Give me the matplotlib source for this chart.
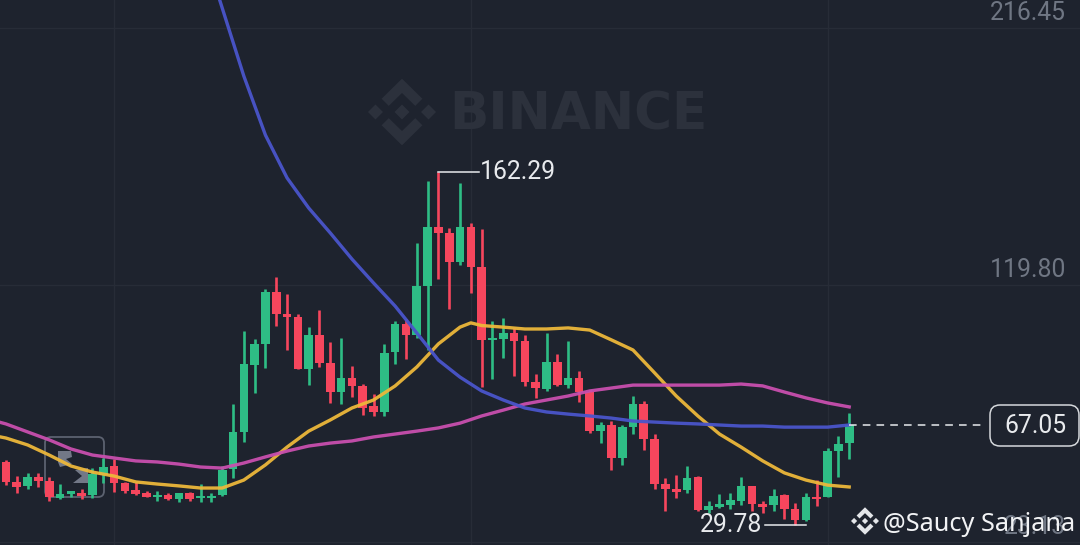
import numpy as np
import matplotlib
matplotlib.use("Agg")
import matplotlib.pyplot as plt
from matplotlib.patches import FancyBboxPatch, Polygon
from matplotlib.transforms import Affine2D

opens = [53.3, 45.8, 44.3, 47.6, 46.1, 39.8, 41.3, 41.6, 40.9, 48.4,
         51.8, 45.4, 42.8, 41.6, 40.1, 40.9, 39.4, 41.6, 39.8, 39.8,
         40.9, 50.7, 64.6, 89.8, 97.7, 117.2, 108.9, 107.8, 88.3, 101.0,
         90.5, 79.6, 84.9, 81.9, 74.3, 72.1, 94.6, 105.2, 101.0, 119.5,
         141.6, 139.4, 128.5, 141.6, 126.6, 99.2, 99.5, 101.8, 98.8, 83.4,
         80.7, 90.9, 82.2, 84.9, 79.6, 64.9, 67.2, 54.8, 66.5, 75.1,
         61.9, 45.0, 43.1, 42.8, 47.6, 35.2, 36.4, 37.1, 38.6, 44.3,
         37.5, 37.1, 40.9, 35.6, 31.5, 40.1, 40.1, 57.4, 60.4]
highs = [54.0, 48.0, 49.2, 49.2, 47.6, 45.0, 42.4, 43.1, 51.0, 54.8,
         54.4, 45.8, 45.8, 42.4, 42.4, 41.6, 41.6, 42.0, 45.0, 41.6,
         51.8, 75.1, 102.5, 99.5, 118.3, 122.8, 116.5, 108.9, 104.0, 110.4,
         98.4, 99.9, 89.4, 82.6, 78.9, 97.7, 106.3, 107.1, 135.6, 158.9,
         162.29, 141.3, 158.2, 143.2, 140.9, 106.3, 107.4, 103.7, 101.0, 86.4,
         101.8, 93.9, 98.8, 87.5, 80.4, 68.3, 68.7, 67.2, 78.1, 76.2,
         63.8, 47.3, 48.4, 51.8, 48.0, 38.6, 41.3, 41.6, 47.6, 44.3,
         38.6, 43.1, 41.3, 37.9, 41.6, 46.5, 58.6, 63.1, 71.7]
lows = [44.6, 41.6, 43.1, 43.9, 38.6, 39.4, 40.1, 39.4, 39.8, 45.4,
        42.0, 41.6, 40.9, 40.1, 38.6, 39.0, 38.2, 38.6, 38.2, 38.2,
        40.5, 47.3, 60.8, 79.2, 88.6, 104.4, 95.4, 88.3, 82.2, 89.0,
        75.5, 75.1, 77.7, 71.0, 70.6, 70.6, 90.1, 92.0, 99.9, 95.4,
        122.1, 110.8, 127.4, 116.8, 81.5, 84.5, 92.4, 85.6, 81.9, 77.4,
        80.0, 81.9, 81.1, 75.8, 64.2, 60.4, 50.3, 52.2, 63.8, 57.8,
        43.1, 34.9, 39.8, 41.6, 34.9, 34.1, 36.0, 35.6, 37.1, 34.9,
        34.1, 34.9, 31.9, 29.78, 31.1, 36.7, 40.1, 47.6, 54.4]
closes = [45.8, 43.9, 47.6, 46.1, 40.1, 41.3, 42.4, 40.5, 48.8, 51.4,
          45.4, 42.4, 41.3, 40.1, 40.9, 39.4, 41.6, 39.4, 40.1, 40.5,
          50.3, 64.6, 90.1, 97.7, 117.2, 108.9, 107.8, 88.3, 101.0, 90.5,
          79.6, 84.9, 81.9, 73.6, 72.1, 94.3, 105.2, 101.0, 119.5, 141.6,
          139.4, 128.5, 141.6, 126.6, 99.2, 99.9, 101.8, 98.8, 83.4, 81.1,
          90.9, 82.2, 84.9, 79.6, 64.9, 67.2, 54.8, 66.5, 75.1, 61.9,
          45.0, 43.1, 42.0, 47.3, 35.2, 36.7, 37.5, 39.0, 44.3, 37.5,
          36.4, 40.5, 35.6, 31.5, 40.1, 39.4, 57.4, 60.1, 67.05]

ma_index = [-1] + list(range(0, 79, 2))
yellow_index = [-1] + list(range(0, 43, 2)) + [43] + list(range(44, 79, 2))
ma_yellow = [63.1, 62.3, 59.7, 55.9, 51.8, 49.5, 48.0, 45.8, 45.0, 44.3, 43.5,
             43.5, 46.5, 52.2, 58.9, 64.9, 69.1, 73.6, 76.6, 81.9, 89.0,
             97.7, 104.0, 105.6, 104.6, 104.0, 103.3, 103.3, 103.7, 102.9, 99.2, 95.4,
             86.8, 78.1, 70.6, 63.8, 58.9, 53.7, 49.2, 46.5, 44.6, 43.9]
ma_magenta = [68.7, 67.6, 64.6, 61.6, 58.2, 55.9, 54.8, 53.7, 53.3, 52.5, 51.4,
              51.0, 52.9, 55.2, 57.4, 59.3, 60.4, 61.2, 62.7, 63.8, 64.9,
              66.1, 67.9, 70.6, 72.8, 75.1, 76.6, 78.1, 80.0, 81.1, 82.2,
              82.2, 82.2, 82.2, 82.2, 82.6, 81.9, 79.6, 77.4, 75.5, 74.0]
ma_blue = [None] * 10 + [249.6, 224.0, 198.4, 176.2, 160.1, 148.8, 139.4, 129.6,
           120.6, 111.9, 101.8, 91.6, 85.2, 80.0, 76.6, 73.6, 72.1, 71.3, 70.6,
           69.8, 68.7, 68.3, 67.9, 67.6, 67.2, 66.8, 66.8, 66.4, 66.4, 66.4, 67.2]

price_ticks = [216.45, 119.80, 23.13]
price_labels = ["216.45", "119.80", "23.13"]
time_ticks = [10, 43, 76]

bg = "#1e232e"
green = "#2ebd85"
red = "#f6465d"
grey = "#6f7683"

plt.rcParams['font.family'] = ['Roboto', 'DejaVu Sans']

fig = plt.figure(figsize=(10.8, 5.45), dpi=100, facecolor=bg)
ax = fig.add_axes([0, 0, 1, 1], facecolor=bg)
ax.set_xlim(-0.555, 99.35)
ax.set_ylim(22.08, 227.0)

# pixel coordinates of the picture, y going down
px = Affine2D().scale(1, -1).translate(0, 545)

ax.set_yticks(price_ticks)
ax.set_xticks(time_ticks)
ax.grid(True, color="#272c37", lw=1)
ax.set_axisbelow(True)
ax.tick_params(length=0, labelleft=False, labelbottom=False)
for s in ax.spines.values():
    s.set_visible(False)


def draw_logo(cx, cy, r, color, z):
    shapes = [
        [(0, .98), (.6, .39), (.39, .18), (0, .56), (-.39, .18), (-.6, .39)],
        [(0, -.98), (.6, -.39), (.39, -.18), (0, -.56), (-.39, -.18), (-.6, -.39)],
        [(0, .22), (.22, 0), (0, -.22), (-.22, 0)],
        [(-.78, .22), (-.56, 0), (-.78, -.22), (-1, 0)],
        [(.78, .22), (1, 0), (.78, -.22), (.56, 0)],
    ]
    for shape in shapes:
        pts = [(cx + r * a, cy - r * b) for a, b in shape]
        ax.add_patch(Polygon(pts, closed=True, fc=color, ec="none", transform=px, zorder=z))


# watermark
draw_logo(402, 112, 34, "#2c313c", 1)
ax.text(449, 130, "BINANCE", transform=px, color="#2c313c", fontsize=37.2,
        fontweight='bold', family='DejaVu Sans', ha='left', va='baseline', zorder=1)

# small replay badge on the left
ax.add_patch(FancyBboxPatch((45, 437), 59, 60, boxstyle="round,pad=0,rounding_size=6",
                            fc="none", ec="#5c6270", lw=1.3, transform=px, zorder=1.5))
ax.add_patch(Polygon([(58, 451), (71, 451), (72, 457), (66, 459), (72, 464), (60, 467), (58, 462)],
                     fc="#727887", ec="none", transform=px, zorder=1.5))
ax.add_patch(Polygon([(88, 468), (88, 483), (73, 483), (82, 476), (75, 470)],
                     fc="#727887", ec="none", transform=px, zorder=1.5))

# candles
for i in range(len(opens)):
    col = green if closes[i] >= opens[i] else red
    ax.vlines(i, lows[i], highs[i], color=col, lw=1.9, zorder=3)
    bottom = min(opens[i], closes[i])
    height = max(abs(closes[i] - opens[i]), 0.8)
    ax.bar(i, height, bottom=bottom, width=0.8, color=col, zorder=3)

ma_blue_arr = np.array(ma_blue, dtype=float)
ax.plot(yellow_index, ma_yellow, color="#edb83a", lw=2.4, zorder=4, alpha=0.95)
ax.plot(ma_index, ma_magenta, color="#c94fae", lw=2.4, zorder=4, alpha=0.95)
ax.plot(ma_index, ma_blue_arr, color="#4a55cb", lw=2.4, zorder=4, alpha=0.95)

# high / low markers
ax.plot([40, 43.8], [162.29, 162.29], color="#e8eaed", lw=1.1, zorder=5)
ax.annotate("162.29", xy=(43.8, 162.29), xytext=(0, 0), textcoords='offset points',
            color="#e8eaed", fontsize=17.8, ha='left', va='center', zorder=5)
ax.plot([70.2, 74], [29.78, 29.78], color="#e8eaed", lw=1.1, zorder=5)
ax.annotate("29.78", xy=(70.0, 29.78), xytext=(0, 0), textcoords='offset points',
            color="#e8eaed", fontsize=17.8, ha='right', va='center', zorder=5)

# price axis labels sit on top of their grid lines
for val, lab in zip(price_ticks, price_labels):
    ax.annotate(lab, xy=(1, val), xycoords=('axes fraction', 'data'),
                xytext=(-10, 6), textcoords='offset points', color=grey,
                fontsize=17.8, ha='right', va='baseline', zorder=2)

# last price
ax.plot([78, 90.2], [closes[-1], closes[-1]], color="#e8eaed", lw=1.1,
        dashes=(5, 4), zorder=5)
ax.add_patch(FancyBboxPatch((990, 405), 89, 41, boxstyle="round,pad=0,rounding_size=10",
                            fc=bg, ec="#d5d8dc", lw=1.1, transform=px, zorder=5))
ax.text(1035, 426, "67.05", transform=px, color="#e8eaed", fontsize=17.8,
        ha='center', va='center', zorder=6)

# credit
draw_logo(865, 521, 14, "#e4e6e9", 6)
ax.text(883, 531, "@Saucy Sanjana", transform=px, color="#f2f3f5", fontsize=18.2,
        family='Noto Sans', ha='left', va='baseline', zorder=6)

fig.savefig("out.png", dpi=100, facecolor=bg)
